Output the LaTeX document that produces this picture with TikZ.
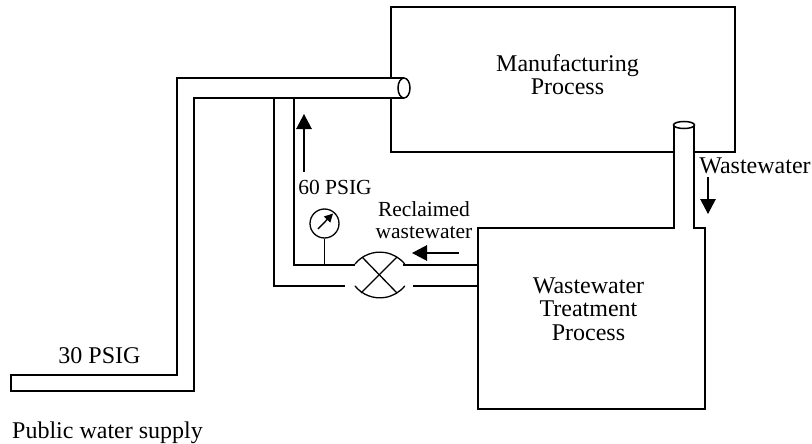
\documentclass[tikz,border=0pt]{standalone}
\usepackage{fontspec}
\setmainfont{Liberation Serif}
\usetikzlibrary{arrows.meta,shapes.geometric}
\tikzset{
  px/.style={x=1pt,y=-1pt},
  pipe/.style={line width=1.5pt,line join=miter},
  thin pipe/.style={line width=1.3pt},
  lbl/.style={inner sep=0pt,align=center,font=\fontsize{24}{23.5}\selectfont,text=black},
  smalllbl/.style={inner sep=0pt,align=center,font=\fontsize{21.5}{22}\selectfont,text=black},
  flow/.style={line width=1.2pt,-{Triangle[length=15pt,width=15.5pt]}}
}
\begin{document}
\begin{tikzpicture}[px]
\useasboundingbox (0,0) rectangle (812,444);
% manufacturing box
\draw[pipe] (391,78) -- (391,7) -- (735,7) -- (735,152) -- (694,152);
\draw[pipe] (674,152) -- (391,152) -- (391,98);
% treatment tank
\draw[pipe] (478,265) -- (478,228) -- (674,228) -- (674,125);
\draw[pipe] (694,125) -- (694,228) -- (705,228) -- (705,409) -- (478,409) -- (478,265);
\node[draw,line width=1.5pt,fill=white,ellipse,minimum width=21pt,minimum height=7pt,inner sep=0pt] (wasteend) at (684,125) {};
% main pipe
\draw[pipe] (404,78) -- (177,78) -- (177,375) -- (11,375) -- (11,391) -- (194,391) -- (194,98) -- (404,98);
\node[draw,line width=1.5pt,fill=white,ellipse,minimum width=12pt,minimum height=20pt,inner sep=0pt] (mainend) at (404,88) {};
% branch
\draw[pipe] (274,98) -- (274,286) -- (345,286);
\draw[thin pipe] (294,98) -- (294,265) -- (355,265);
\draw[thin pipe] (403,265) -- (478,265);
\draw[pipe] (413,286) -- (478,286);
% valve
\draw[thin pipe,line cap=round] (355,264) arc[start angle=219,end angle=321,radius=32];
\draw[thin pipe,line cap=round] (355,286) arc[start angle=141,end angle=39,radius=32];
\draw[thin pipe] (362,257) -- (397,293);
\draw[thin pipe] (397,257) -- (361,293);
% gauge
\node[draw,line width=1.3pt,circle,minimum size=29pt,inner sep=0pt] (gauge) at (324.5,223.5) {};
\coordinate (gstem) at (324.5,265);
\draw[thin pipe] (gauge.south) -- (gstem);
\coordinate (gn1) at (318,229);
\coordinate (gn2) at (333,213.5);
\draw[line width=1.4pt,-{Triangle[length=8.5pt,width=8.5pt]}] (gn1) -- (gn2);
% flow arrows
\coordinate (f1s) at (304,172); \coordinate (f1e) at (304,114);
\draw[flow] (f1s) -- (f1e);
\coordinate (f2s) at (459,253); \coordinate (f2e) at (412,253);
\draw[flow] (f2s) -- (f2e);
\coordinate (f3s) at (708,177); \coordinate (f3e) at (708,214);
\draw[flow] (f3s) -- (f3e);
% labels
\node[lbl,anchor=base] (mfg) at (567.5,95) {Manufacturing\\Process};
\node[lbl,anchor=base] (wwt) at (588.5,340) {Wastewater\\Treatment\\Process};
\node[smalllbl,anchor=base] (p60) at (335,194) {60 PSIG};
\node[smalllbl,anchor=base] (recl) at (424,238) {Reclaimed\\wastewater};
\node[lbl,anchor=base] (ww) at (755,173) {Wastewater};
\node[lbl,anchor=base] (p30) at (99.5,363) {30 PSIG};
\node[lbl,anchor=base west] (pub) at (12,438) {Public water supply};
\end{tikzpicture}
\end{document}
